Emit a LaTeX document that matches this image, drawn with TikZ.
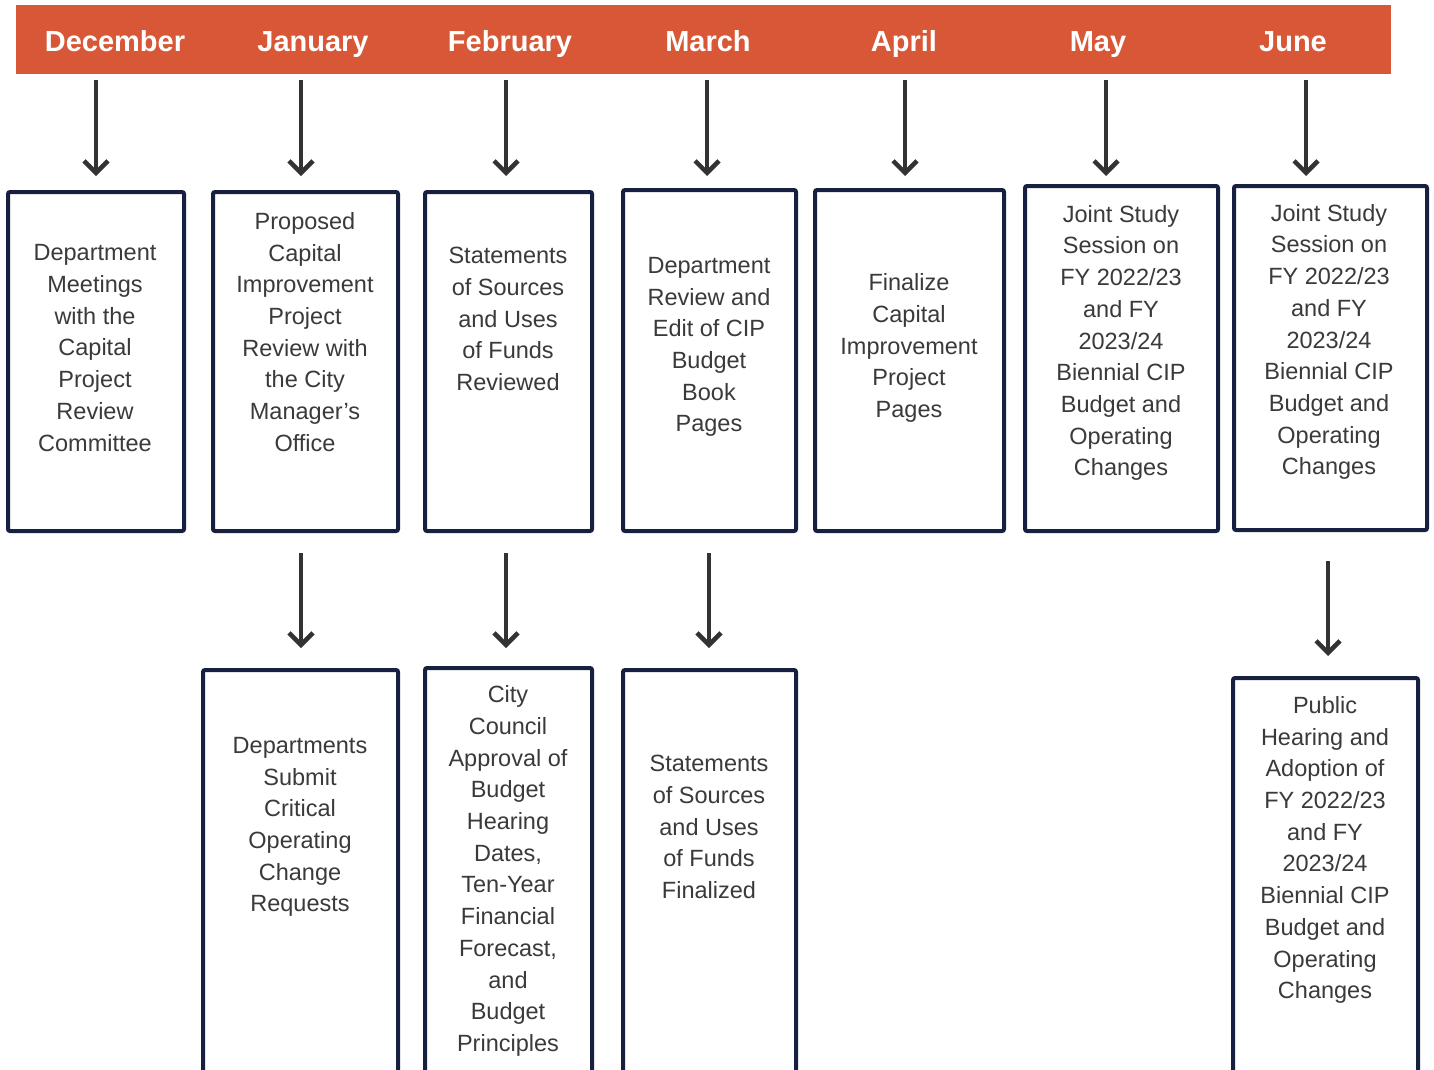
\documentclass[tikz,border=0pt]{standalone}
\usepackage{fontspec}
\setmainfont{Liberation Sans}
\usetikzlibrary{arrows.meta}
\definecolor{barorange}{HTML}{D85736}
\definecolor{boxnavy}{HTML}{17203F}
\definecolor{arrowgray}{HTML}{333333}
\definecolor{txtgray}{HTML}{3A3A3A}
\tikzset{
  month/.style={font=\fontsize{29}{34}\selectfont\bfseries, text=white, inner sep=0pt, anchor=base},
  stepbox/.style={draw=boxnavy, line width=4pt, rounded corners=2pt, fill=white},
  boxtext/.style={font=\fontsize{23.5}{31.7}\selectfont, text=txtgray, align=center, inner sep=0pt},
  arr/.style={draw=arrowgray, line width=4.5pt, -{Straight Barb[length=12pt,width=24pt,line width=4.5pt]}},
}
\newcommand{\mybox}[5]{% name, x1, y1, x2, y2
  \path[stepbox] (#2,#3) rectangle (#4,#5);
  \node[inner sep=0pt, minimum width={#4-#2}, minimum height={#5-#3}] (#1) at ({(#2+#4)/2},{(#3+#5)/2}) {};
}
\begin{document}
\begin{tikzpicture}[x=1pt,y=-1pt]
\useasboundingbox (0,0) rectangle (1434,1069);
\clip (0,0) rectangle (1434,1069);
\fill[white] (0,0) rectangle (1434,1069);
% bar
\fill[barorange] (16,5) rectangle (1391,74);
\node[month] (m1) at (115,51) {December};
\node[month] (m2) at (313,51) {January};
\node[month] (m3) at (510,51) {February};
\node[month] (m4) at (708,51) {March};
\node[month] (m5) at (904,51) {April};
\node[month] (m6) at (1098,51) {May};
\node[month] (m7) at (1293,51) {June};
% top boxes
\mybox{b1}{8}{192}{184}{531}
\mybox{b2}{213}{192}{398}{531}
\mybox{b3}{425}{192}{592}{531}
\mybox{b4}{623}{190}{796}{531}
\mybox{b5}{815}{190}{1004}{531}
\mybox{b6}{1025}{186}{1218}{531}
\mybox{b7}{1234}{186}{1427}{530}
% bottom boxes
\mybox{c2}{203}{670}{398}{1090}
\mybox{c3}{425}{668}{592}{1090}
\mybox{c4}{623}{670}{796}{1090}
\mybox{c7}{1233}{678}{1418}{1090}
% texts
\node[boxtext] (t1) at (95,348) {Department\\Meetings\\with the\\Capital\\Project\\Review\\Committee};
\node[boxtext] (t2) at (305,332) {Proposed\\Capital\\Improvement\\Project\\Review with\\the City\\Manager’s\\Office};
\node[boxtext] (t3) at (508,319) {Statements\\of Sources\\and Uses\\of Funds\\Reviewed};
\node[boxtext] (t4) at (709,347) {Department\\Review and\\Edit of CIP\\Budget\\Book\\Pages};
\node[boxtext] (t5) at (909,348) {Finalize\\Capital\\Improvement\\Project\\Pages};
\node[boxtext] (t6) at (1121,343) {Joint Study\\Session on\\FY 2022/23\\and FY\\2023/24\\Biennial CIP\\Budget and\\Operating\\Changes};
\node[boxtext] (t7) at (1329,342) {Joint Study\\Session on\\FY 2022/23\\and FY\\2023/24\\Biennial CIP\\Budget and\\Operating\\Changes};
\node[boxtext] (u2) at (300,827) {Departments\\Submit\\Critical\\Operating\\Change\\Requests};
\node[boxtext] (u3) at (508,871) {City\\Council\\Approval of\\Budget\\Hearing\\Dates,\\Ten-Year\\Financial\\Forecast,\\and\\Budget\\Principles};
\node[boxtext] (u4) at (709,827) {Statements\\of Sources\\and Uses\\of Funds\\Finalized};
\node[boxtext] (u7) at (1325,850) {Public\\Hearing and\\Adoption of\\FY 2022/23\\and FY\\2023/24\\Biennial CIP\\Budget and\\Operating\\Changes};
% arrows top
\coordinate (a1s) at (96,80);   \coordinate (a1e) at (96,176);
\coordinate (a2s) at (301,80);  \coordinate (a2e) at (301,176);
\coordinate (a3s) at (506,80);  \coordinate (a3e) at (506,176);
\coordinate (a4s) at (707,80);  \coordinate (a4e) at (707,176);
\coordinate (a5s) at (905,80);  \coordinate (a5e) at (905,176);
\coordinate (a6s) at (1106,80); \coordinate (a6e) at (1106,176);
\coordinate (a7s) at (1306,80); \coordinate (a7e) at (1306,176);
\foreach \i in {1,...,7} {\draw[arr] (a\i s) -- (a\i e);}
% arrows bottom
\coordinate (d2s) at (301,553);  \coordinate (d2e) at (301,648);
\coordinate (d3s) at (506,553);  \coordinate (d3e) at (506,648);
\coordinate (d4s) at (709,553);  \coordinate (d4e) at (709,648);
\coordinate (d7s) at (1328,561); \coordinate (d7e) at (1328,656);
\foreach \i in {2,3,4,7} {\draw[arr] (d\i s) -- (d\i e);}
\end{tikzpicture}
\end{document}
